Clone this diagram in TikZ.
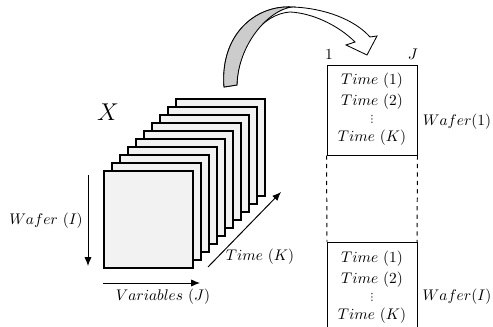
\documentclass[tikz,border=0pt]{standalone}
\usepackage{fontspec}
\newfontfamily\symfont{DejaVu Sans}
\usetikzlibrary{arrows.meta}
\newcommand\threedots{{\symfont\fontsize{7}{8}\selectfont ⋮}}
\begin{document}
\begin{tikzpicture}[x=0.025cm, y=-0.025cm,
	every node/.style={font=\fontsize{10.5}{12}\selectfont},
	sheet/.style={draw, line width=1pt, fill=gray!10},
	axis/.style={line width=0.7pt, -{Latex[length=2.2mm,width=1.8mm]}},
	block/.style={draw, line width=0.7pt, minimum width=2.25cm, minimum height=2.225cm, inner sep=0pt},
	lbl/.style={inner sep=0pt, text height=1.6ex, text depth=0.4ex}]
	\useasboundingbox (0,0) rectangle (493,327);

	% stack of slices, back to front
	\foreach \i in {9,...,0}
		\draw[sheet] (104+8*\i,171-8*\i) rectangle (193+8*\i,268-8*\i);
	\node[inner sep=0pt, font=\LARGE] (lblX) at (108,112) {$X$};

	% axes
	\coordinate (wTop) at (88,175);
	\coordinate (wBot) at (88,266);
	\coordinate (vL) at (103,283);
	\coordinate (vR) at (200,283);
	\coordinate (tA) at (208,267);
	\coordinate (tB) at (281,192);
	\draw[axis] (wTop) -- (wBot);
	\draw[axis] (vL) -- (vR);
	\draw[axis] (tA) -- (tB);
	\node[lbl] (lblWafer) at (46,221) {$Wafer\ (I)$};
	\node[lbl] (lblVar) at (163,297) {$Variables\ (J)$};
	\node[lbl] (lblTime) at (260,257) {$Time\ (K)$};

	% curved arrow
	\filldraw[line width=0.6pt, fill=white] (224,87) .. controls (220,35) and (255,5) .. (292,7)
		.. controls (325,8) and (355,20) .. (370,37) -- (377,36) -- (367,55) -- (346,45) -- (355,42)
		.. controls (338,25) and (312,13) .. (290,12) .. controls (262,14) and (238,45) .. (237,85) -- cycle;
	\filldraw[line width=0.6pt, fill=gray!40] (224,87) .. controls (220,35) and (255,5) .. (292,7)
		.. controls (268,10) and (238,45) .. (237,85) -- cycle;

	% unfolded matrix
	\node[block] (blk1) at (372,110.5) {};
	\node[lbl] (one) at (329,56) {$1$};
	\node[lbl] (colJ) at (413,56) {$J$};
	\node[lbl] (t11) at (372,81) {$Time\ (1)$};
	\node[lbl] (t12) at (372,102) {$Time\ (2)$};
	\node[inner sep=0pt] (t1d) at (372,119) {\threedots};
	\node[lbl] (t1K) at (372,138) {$Time\ (K)$};
	\node[lbl] (w1) at (457,122) {$Wafer(1)$};

	\coordinate (b2nw) at (327,242);
	\coordinate (b2ne) at (417,242);
	\coordinate (b2sw) at (327,327);
	\coordinate (b2se) at (417,327);
	\draw[line width=0.7pt] (b2sw) |- (b2ne) -- (b2se);
	\draw[line width=0.7pt, dashed] (blk1.south west) -- (b2nw);
	\draw[line width=0.7pt, dashed] (blk1.south east) -- (b2ne);
	\node[lbl] (t21) at (372,259) {$Time\ (1)$};
	\node[lbl] (t22) at (372,280) {$Time\ (2)$};
	\node[inner sep=0pt] (t2d) at (372,297) {\threedots};
	\node[lbl] (t2K) at (372,316) {$Time\ (K)$};
	\node[lbl] (wI) at (457,297) {$Wafer(I)$};
\end{tikzpicture}
\end{document}
